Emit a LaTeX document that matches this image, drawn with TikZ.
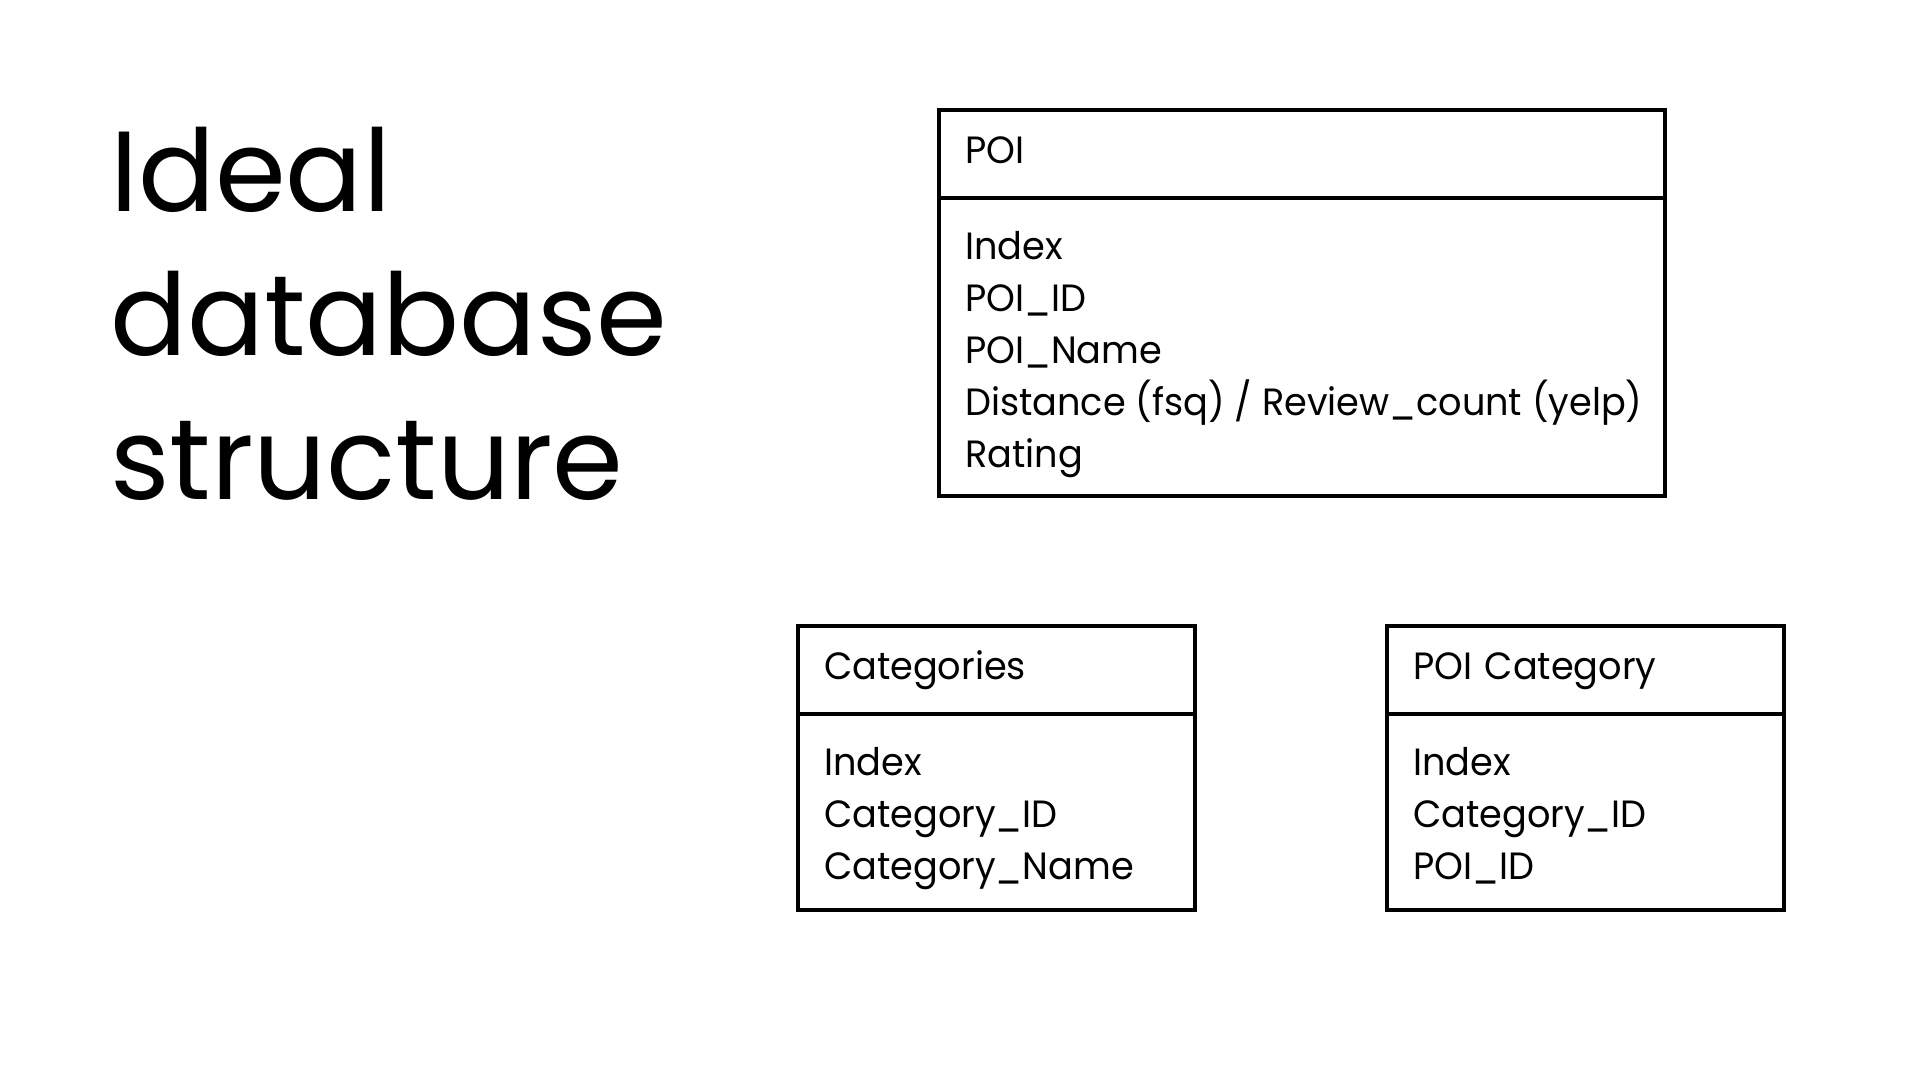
\documentclass[tikz,border=0pt]{standalone}
\usepackage{fontspec}
\setmainfont{Poppins}
\newfontfamily\tblfont[FakeStretch=0.965]{Poppins}
\usetikzlibrary{positioning,matrix}

\begin{document}
\begin{tikzpicture}[x=1pt,y=-1pt,
    hdr/.style={draw,line width=3.3pt,outer sep=0pt,inner xsep=26pt,inner ysep=0pt,minimum height=88pt,
      align=left,text height=28pt,text depth=10pt,font=\tblfont\fontsize{38}{52}\selectfont,anchor=north west},
    tblbody/.style={draw,line width=3.3pt,outer sep=0pt,inner sep=0pt},
    fields/.style={matrix of nodes,inner sep=0pt,row sep=14pt,
      nodes={anchor=base west,inner sep=0pt,text height=28pt,text depth=10pt,font=\tblfont\fontsize{38}{52}\selectfont}},
    title/.style={align=left,inner sep=0pt,anchor=north west,font=\fontsize{114}{144}\selectfont}]
    \useasboundingbox (0,0) rectangle (1920,1080);
    \node[title] (ttl) at (110,127) {Ideal\\database\\structure};

    \node[hdr,text width=674pt] (poi) at (939,110) {POI};
    \node[tblbody,below=0pt of poi,minimum width=726pt,minimum height=298pt] (poi-body) {};
    \matrix[fields,below right=33pt and 26pt of poi-body.north west] (poi-m)
    {
      Index \\
      POI\_ID \\
      POI\_Name \\
      Distance (fsq) / Review\_count (yelp) \\
      Rating \\
    };

    \node[hdr,text width=345pt] (cat) at (798,626) {Categories};
    \node[tblbody,below=0pt of cat,minimum width=397pt,minimum height=196pt] (cat-body) {};
    \matrix[fields,below right=33pt and 26pt of cat-body.north west] (cat-m)
    {
      Index \\
      Category\_ID \\
      Category\_Name \\
    };

    \node[hdr,text width=345pt] (poicat) at (1387,626) {POI Category};
    \node[tblbody,below=0pt of poicat,minimum width=397pt,minimum height=196pt] (poicat-body) {};
    \matrix[fields,below right=33pt and 26pt of poicat-body.north west] (poicat-m)
    {
      Index \\
      Category\_ID \\
      POI\_ID \\
    };
  \end{tikzpicture}
\end{document}
